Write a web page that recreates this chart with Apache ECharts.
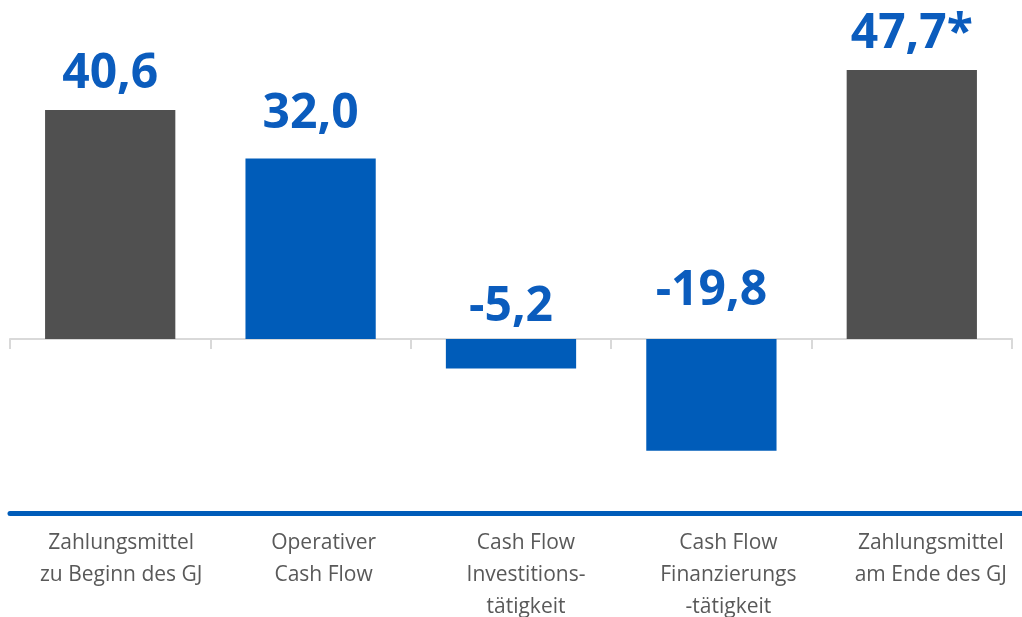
<!DOCTYPE html>
<html>
<head>
<meta charset="utf-8">
<title>Cash Flow</title>
<script src="https://cdn.jsdelivr.net/npm/echarts@6/dist/echarts.min.js"></script>
<style>
  html, body { margin: 0; padding: 0; background: #fff; }
  #chart { width: 1022px; height: 617px; }
</style>
</head>
<body>
<div id="chart"></div>
<script>
// Daten
var categories = [
  'Zahlungsmittel\nzu Beginn des GJ',
  'Operativer\nCash Flow',
  'Cash Flow\nInvestitions-\ntätigkeit',
  'Cash Flow\nFinanzierungs\n-tätigkeit',
  'Zahlungsmittel\nam Ende des GJ'
];
var values = [40.6, 32.0, -5.2, -19.8, 47.7];
var labelSuffix = ['', '', '', '', '*'];

// Stil
var grey = '#505050';
var blue = '#005cb9';
var labelBlue = '#0b5cbd';
var labelDist = [12, 20, 8, 24, 12];

var chartDom = document.getElementById('chart');
var myChart = echarts.init(chartDom);

var seriesData = [];
for (var i = 0; i < values.length; i++) {
  var isTotal = (i === 0 || i === values.length - 1);
  seriesData.push({
    value: values[i],
    itemStyle: { color: isTotal ? grey : blue },
    label: { distance: labelDist[i] }
  });
}

var option = {
  animation: false,
  grid: [
    { left: 10, right: 10, top: 57, height: 457, outerBoundsMode: 'none', containLabel: false },
    { left: 10, right: 0, top: 57, height: 456, outerBoundsMode: 'none', containLabel: false }
  ],
  xAxis: [
    {
      type: 'category',
      gridIndex: 0,
      data: categories,
      axisLine: { onZero: true, lineStyle: { color: '#d9d9d9', width: 2 } },
      axisTick: { show: true, length: 10, lineStyle: { color: '#d9d9d9', width: 2 } },
      axisLabel: { show: false }
    },
    {
      type: 'category',
      gridIndex: 1,
      position: 'bottom',
      data: categories,
      axisLine: { onZero: false, lineStyle: { color: blue, width: 5 } },
      axisTick: { show: false },
      axisLabel: {
        color: '#595959',
        fontFamily: 'Open Sans',
        fontSize: 21,
        lineHeight: 32,
        margin: 14,
        interval: 0,
        padding: [0, 0, 0, 20]
      }
    }
  ],
  yAxis: [
    { type: 'value', gridIndex: 0, min: -31, max: 50, show: false },
    { type: 'value', gridIndex: 1, min: 0, max: 1, show: false }
  ],
  series: [
    {
      type: 'bar',
      xAxisIndex: 0,
      yAxisIndex: 0,
      barCategoryGap: '35%',
      data: seriesData,
      label: {
        show: true,
        position: 'top',
        color: labelBlue,
        fontFamily: 'Open Sans',
        fontWeight: 'bold',
        fontSize: 48,
        formatter: function (p) {
          return p.value.toFixed(1).replace('.', ',') + labelSuffix[p.dataIndex];
        }
      }
    }
  ]
};

option && myChart.setOption(option);
</script>
</body>
</html>
